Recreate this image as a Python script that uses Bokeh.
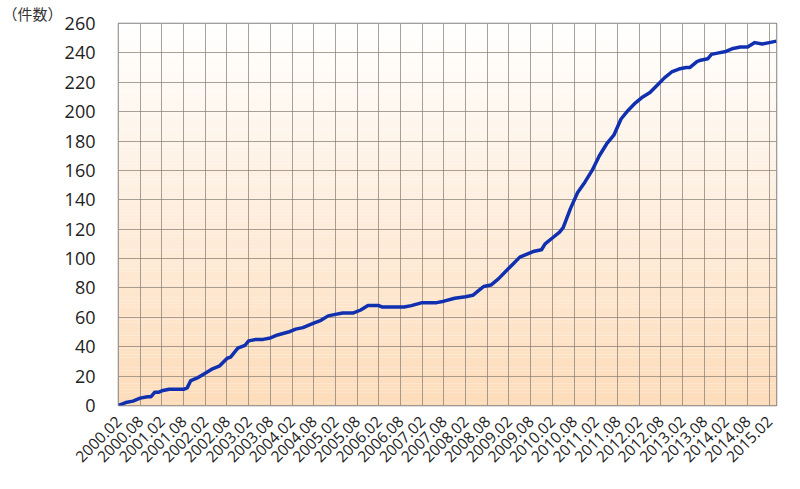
import numpy as np
from bokeh.plotting import figure
from bokeh.models import FixedTicker, Range1d
from bokeh.embed import file_html
from bokeh.resources import INLINE
from math import pi

# month index (0 = 2000.02) and cumulative count
months = [0, 2, 4, 6, 8, 9, 10, 11, 12, 14, 16, 18, 19, 20, 22, 24, 26, 28, 30, 31,
          33, 35, 36, 38, 40, 42, 44, 47, 49, 51, 54, 56, 58, 60, 62, 65, 67, 69, 72, 73,
          76, 79, 81, 84, 88, 90, 93, 96, 98, 100, 101, 103, 105, 107, 109, 111, 113, 115, 117, 118,
          120, 122, 123, 125, 127, 129, 131, 133, 135, 137, 139, 141, 143, 145, 147, 149, 151, 153, 155, 157,
          158, 160, 161, 163, 164, 166, 168, 170, 172, 174, 176, 178, 180, 182]
counts = [0, 2, 3, 5, 6, 6, 9, 9, 10, 11, 11, 11, 12, 17, 19, 22, 25, 27, 32, 33,
          39, 41, 44, 45, 45, 46, 48, 50, 52, 53, 56, 58, 61, 62, 63, 63, 65, 68, 68, 67,
          67, 67, 68, 70, 70, 71, 73, 74, 75, 79, 81, 82, 86, 91, 96, 101, 103, 105, 106, 110,
          114, 118, 121, 134, 145, 152, 160, 170, 178, 184, 195, 201, 206, 210, 213, 218, 223, 227, 229, 230,
          230, 234, 235, 236, 239, 240, 241, 243, 244, 244, 247, 246, 247, 248]

tick_labels = ["2000.02", "2000.08", "2001.02", "2001.08", "2002.02", "2002.08", "2003.02", "2003.08",
               "2004.02", "2004.08", "2005.02", "2005.08", "2006.02", "2006.08", "2007.02", "2007.08",
               "2008.02", "2008.08", "2009.02", "2009.08", "2010.02", "2010.08", "2011.02", "2011.08",
               "2012.02", "2012.08", "2013.02", "2013.08", "2014.02", "2014.08", "2015.02"]
y_ticks = list(range(0, 261, 20))
unit_caption = "（件数）"

x_ticks = [i * 6 for i in range(len(tick_labels))]
x_max = months[-1]
y_max = y_ticks[-1]

p = figure(frame_width=658, frame_height=382, output_backend="svg", toolbar_location=None,
           x_range=Range1d(0, x_max), y_range=Range1d(0, y_max),
           min_border_left=118, min_border_right=12, min_border_top=0, min_border_bottom=78,
           background_fill_color=None, border_fill_color="white", title=unit_caption)

p.title.align = "left"
p.title.offset = -116
p.title.standoff = 0
p.title.text_font = "Noto Sans CJK JP"
p.title.text_font_size = "15px"
p.title.text_font_style = "normal"
p.title.text_color = "#333333"

# vertical gradient background (white at top -> peach at bottom)
n = 120
edges = np.linspace(0, y_max, n + 1)
top_c = np.array([255, 255, 255])
bot_c = np.array([253, 220, 186])
cols = []
for i in range(n):
    t = (edges[i] + edges[i + 1]) / 2 / y_max
    c = bot_c + (top_c - bot_c) * t
    cols.append("#%02x%02x%02x" % tuple(int(round(v)) for v in c))
p.quad(left=0, right=x_max, bottom=edges[:-1], top=edges[1:] + 0.05, fill_color=cols,
       line_color=None, level="image")

p.line(months, counts, line_color="#1030b0", line_width=3.5, line_join="round")

p.xaxis.ticker = FixedTicker(ticks=x_ticks)
p.xaxis.major_label_overrides = {t: l for t, l in zip(x_ticks, tick_labels)}
p.yaxis.ticker = FixedTicker(ticks=y_ticks)
p.xaxis.major_label_orientation = pi / 4
p.xgrid.ticker = FixedTicker(ticks=x_ticks)
p.ygrid.ticker = FixedTicker(ticks=y_ticks)

for ax in (p.xaxis, p.yaxis):
    ax.axis_line_color = None
    ax.major_tick_line_color = None
    ax.minor_tick_line_color = None
    ax.major_label_text_font = "Open Sans"
    ax.major_label_text_color = "#222222"
p.yaxis.major_label_text_font_size = "18px"
p.yaxis.major_label_standoff = 17
p.xaxis.major_label_text_font_size = "15.5px"
p.xaxis.major_label_standoff = 7

p.grid.grid_line_color = "#857a70"
p.grid.grid_line_alpha = 0.7
p.grid.grid_line_width = 1
p.outline_line_color = "#808080"
p.outline_line_width = 1.5

open("out.html", "w").write(file_html(p, INLINE))
